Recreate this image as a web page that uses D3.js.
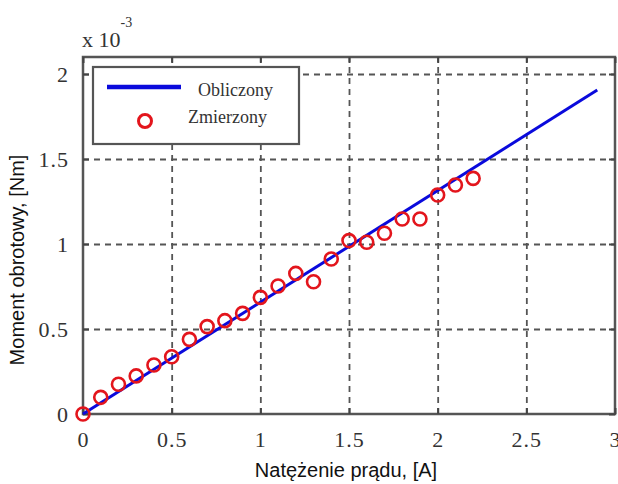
<!DOCTYPE html>
<html>
<head>
<meta charset="utf-8">
<script src="https://cdn.jsdelivr.net/npm/d3@7"></script>
<style>
  body { margin: 0; background: #fff; }
</style>
</head>
<body>
<div id="chart"></div>
<script>
// measured torque vs current
const prad = [0, 0.1, 0.2, 0.3, 0.4, 0.5, 0.6, 0.7, 0.8, 0.9, 1.0, 1.1, 1.2, 1.3, 1.4, 1.5, 1.6, 1.7, 1.8, 1.9, 2.0, 2.1, 2.2];
const zmierzony = [0, 0.098, 0.175, 0.224, 0.288, 0.337, 0.439, 0.514, 0.549, 0.592, 0.686, 0.753, 0.827, 0.778, 0.912, 1.02, 1.01, 1.063, 1.147, 1.147, 1.288, 1.347, 1.386];
// computed line (two end points)
const pradLinia = [0, 2.9];
const obliczony = [0, 1.906];
const xTicks = [0, 0.5, 1, 1.5, 2, 2.5, 3];
const yTicks = [0, 0.5, 1, 1.5, 2];

const width = 618, height = 484;
const margin = {top: 57, right: 3, bottom: 70, left: 83};
const serif = '"Liberation Serif", "DejaVu Serif", serif';
const sans = '"Liberation Sans", Arial, sans-serif';

const svg = d3.select("#chart").append("svg")
    .attr("width", width)
    .attr("height", height);

const x = d3.scaleLinear().domain([0, 3]).range([margin.left, width - margin.right]);
const y = d3.scaleLinear().domain([0, 2.1]).range([height - margin.bottom, margin.top]);

function tickText(g) {
    g.selectAll("text")
        .attr("font-family", null).attr("font-size", null)
        .attr("fill", "#333")
        .style("font-family", serif)
        .style("font-size", "22px")
        .style("letter-spacing", "1px");
}

// grid
svg.append("g")
    .attr("transform", `translate(0,${height - margin.bottom})`)
    .call(d3.axisBottom(x).tickValues(xTicks.slice(1, -1)).tickFormat("").tickSize(-(y.range()[0] - y.range()[1])))
    .call(g => g.select(".domain").remove())
    .call(g => g.selectAll("line").attr("stroke", "#555").attr("stroke-width", 1.8).attr("stroke-dasharray", "6,5"));
svg.append("g")
    .attr("transform", `translate(${margin.left},0)`)
    .call(d3.axisLeft(y).tickValues(yTicks.slice(1)).tickFormat("").tickSize(-(x.range()[1] - x.range()[0])))
    .call(g => g.select(".domain").remove())
    .call(g => g.selectAll("line").attr("stroke", "#555").attr("stroke-width", 1.8).attr("stroke-dasharray", "6,5"));

// frame with inner ticks on all sides
svg.append("rect")
    .attr("x", x(0)).attr("y", y(2.1))
    .attr("width", x(3) - x(0)).attr("height", y(0) - y(2.1))
    .attr("fill", "none").attr("stroke", "#555").attr("stroke-width", 2.5);

svg.append("g")
    .attr("transform", `translate(0,${y(0)})`)
    .call(d3.axisBottom(x).tickValues(xTicks).tickSize(-6).tickPadding(17).tickFormat(d3.format("")))
    .call(g => g.select(".domain").remove())
    .call(g => g.selectAll("line").attr("stroke", "#444").attr("stroke-width", 2))
    .call(tickText);
svg.append("g")
    .attr("transform", `translate(0,${y(2.1)})`)
    .call(d3.axisTop(x).tickValues(xTicks).tickSize(-6).tickFormat(""))
    .call(g => g.select(".domain").remove())
    .call(g => g.selectAll("line").attr("stroke", "#444").attr("stroke-width", 2));
svg.append("g")
    .attr("transform", `translate(${x(0)},0)`)
    .call(d3.axisLeft(y).tickValues(yTicks).tickSize(-6).tickPadding(14).tickFormat(d3.format("")))
    .call(g => g.select(".domain").remove())
    .call(g => g.selectAll("line").attr("stroke", "#444").attr("stroke-width", 2))
    .call(tickText);
svg.append("g")
    .attr("transform", `translate(${x(3)},0)`)
    .call(d3.axisRight(y).tickValues(yTicks).tickSize(-6).tickFormat(""))
    .call(g => g.select(".domain").remove())
    .call(g => g.selectAll("line").attr("stroke", "#444").attr("stroke-width", 2));

// exponent
const expo = svg.append("text").attr("x", x(0) - 1).attr("y", 47)
    .attr("fill", "#333").style("font-family", serif).style("font-size", "22px");
expo.append("tspan").text("x 10");
expo.append("tspan").attr("dy", -20).style("font-size", "14px").text("-3");

// computed line
const lineData = pradLinia.map((d, i) => ({x: d, y: obliczony[i]}));
svg.append("path")
    .datum(lineData)
    .attr("fill", "none")
    .attr("stroke", "#0a0adc")
    .attr("stroke-width", 3)
    .attr("d", d3.line().x(d => x(d.x)).y(d => y(d.y)));

// measured points
svg.append("g")
    .selectAll("circle")
    .data(prad.map((d, i) => ({x: d, y: zmierzony[i]})))
    .join("circle")
        .attr("cx", d => x(d.x))
        .attr("cy", d => y(d.y))
        .attr("r", 6.5)
        .attr("fill", "none")
        .attr("stroke", "#e3151c")
        .attr("stroke-width", 2.6);

// legend
const leg = svg.append("g");
leg.append("rect")
    .attr("x", 93).attr("y", 67).attr("width", 206).attr("height", 77)
    .attr("fill", "#fff").attr("stroke", "#555").attr("stroke-width", 2.2);
leg.append("line")
    .attr("x1", 107).attr("x2", 181).attr("y1", 87).attr("y2", 87)
    .attr("stroke", "#0a0adc").attr("stroke-width", 4.5);
leg.append("text").attr("x", 198).attr("y", 96).text("Obliczony")
    .attr("fill", "#333").style("font-family", serif).style("font-size", "18px");
leg.append("circle")
    .attr("cx", 145).attr("cy", 121).attr("r", 6.5)
    .attr("fill", "none").attr("stroke", "#e3151c").attr("stroke-width", 3);
leg.append("text").attr("x", 188).attr("y", 123).text("Zmierzony")
    .attr("fill", "#333").style("font-family", serif).style("font-size", "18px");

// axis titles
svg.append("text")
    .attr("text-anchor", "middle")
    .attr("x", 346).attr("y", 477)
    .attr("fill", "#111").style("font-family", sans).style("font-size", "20px")
    .text("Natężenie prądu, [A]");
svg.append("text")
    .attr("text-anchor", "middle")
    .attr("transform", "translate(24,260) rotate(-90)")
    .attr("fill", "#111").style("font-family", sans).style("font-size", "20px")
    .text("Moment obrotowy, [Nm]");
</script>
</body>
</html>
